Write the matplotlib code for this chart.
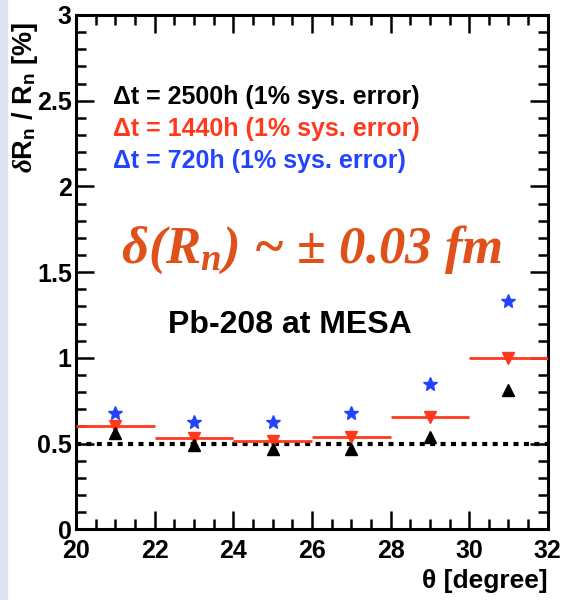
import matplotlib
matplotlib.use("Agg")
import matplotlib.pyplot as plt
from matplotlib.patches import Rectangle
from matplotlib.ticker import MultipleLocator

# theta bins (centres) and relative errors in %
theta = [21, 23, 25, 27, 29, 31]
bin_half = [1, 1, 1, 1, 1, 1]
err_2500h = [0.56, 0.49, 0.47, 0.47, 0.54, 0.81]
err_1440h = [0.60, 0.53, 0.515, 0.54, 0.655, 1.0]
err_720h = [0.68, 0.625, 0.625, 0.68, 0.85, 1.33]

legend_labels = ["\u0394t = 2500h (1% sys. error)",
                 "\u0394t = 1440h (1% sys. error)",
                 "\u0394t = 720h (1% sys. error)"]

plt.rcParams['font.family'] = ['Liberation Sans', 'DejaVu Sans']
plt.rcParams['mathtext.fontset'] = 'custom'
plt.rcParams['mathtext.rm'] = 'Liberation Serif:bold:italic'
plt.rcParams['mathtext.it'] = 'Liberation Serif:bold:italic'
plt.rcParams['mathtext.bf'] = 'Liberation Serif:bold:italic'
plt.rcParams['mathtext.sf'] = 'Liberation Sans:bold'

fig = plt.figure(figsize=(5.63, 6.0), dpi=100)
fig.patches.append(Rectangle((0, 0), 0.012, 1, transform=fig.transFigure,
                             color='#dce5f1', zorder=0))
ax = fig.add_axes([0.135, 0.118, 0.838, 0.857])

red = '#ff3a1c'
blue = '#2244ff'

ax.plot([20, 32], [0.5, 0.5], color='black', linestyle=(0, (1.2, 1.3)), linewidth=3, zorder=1)

ax.errorbar(theta, err_1440h, xerr=bin_half, fmt='v', color=red, markersize=9,
            elinewidth=2, capsize=0, zorder=3)
ax.errorbar(theta, err_2500h, yerr=0.02, fmt='^', color='black', markersize=8,
            elinewidth=1.2, capsize=0, zorder=4)
ax.plot(theta, err_720h, '*', color=blue, markersize=10, zorder=4)

ax.set_xlim(20, 32)
ax.set_ylim(0, 3)
ax.xaxis.set_major_locator(MultipleLocator(2))
ax.xaxis.set_minor_locator(MultipleLocator(0.5))
ax.yaxis.set_minor_locator(MultipleLocator(0.1))
ax.set_yticks([0, 0.5, 1, 1.5, 2, 2.5, 3])
ax.set_yticklabels(['0', '0.5', '1', '1.5', '2', '2.5', '3'])
ax.tick_params(which='both', direction='in', top=True, right=True, width=1.8)
ax.tick_params(which='major', length=13, labelsize=18, pad=3)
ax.tick_params(axis='x', which='major', pad=7)
ax.tick_params(which='minor', length=7)
for lab in ax.get_xticklabels() + ax.get_yticklabels():
    lab.set_fontweight('bold')
for s in ax.spines.values():
    s.set_linewidth(2.2)

ax.set_ylabel(r"$\delta$R$_\mathsf{n}$ / R$_\mathsf{n}$ [%]", fontsize=19.5, fontweight='bold', loc='top')
ax.yaxis.set_label_coords(-0.077, 0.986)
ax.yaxis.label.set_fontfamily(['Liberation Sans', 'DejaVu Sans'])
ax.set_xlabel("\u03b8 [degree]", fontsize=19, fontweight='bold', loc='right')
ax.xaxis.set_label_coords(1.0, -0.078)

colors = ['black', red, blue]
for i, (txt, c) in enumerate(zip(legend_labels, colors)):
    ax.text(0.078, 0.840 - i * 0.062, txt, transform=ax.transAxes, color=c,
            fontsize=18, fontweight='bold', va='center')

ax.text(0.5, 0.543, "\u03b4($R_n$) ~ \u00b1 0.03 fm", transform=ax.transAxes,
        color='#e0501a', fontsize=38, ha='center', va='center',
        family=['Liberation Serif', 'DejaVu Serif'], style='italic', weight='bold')
ax.text(0.453, 0.397, "Pb-208 at MESA", transform=ax.transAxes, color='black',
        fontsize=23, fontweight='bold', ha='center', va='center')

fig.savefig("out.png", dpi=100)
